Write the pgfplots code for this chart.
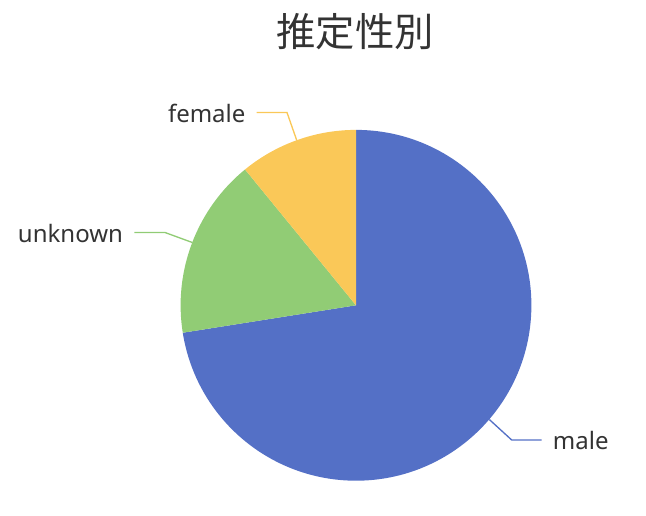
\documentclass[border=0pt]{standalone}
\usepackage{pgfplots}
\pgfplotsset{compat=1.18}
\usepackage{pgfplotstable}
\usepackage{fontspec}
\setmainfont{Noto Sans}
\newfontfamily\cjk{Noto Sans CJK JP}
\definecolor{cmale}{HTML}{5470C6}
\definecolor{cunknown}{HTML}{91CC75}
\definecolor{cfemale}{HTML}{FAC858}
\definecolor{txt}{HTML}{333333}

% share of each slice
\pgfplotstableread{
label value
male 72.5
unknown 16.6
female 10.9
}\piedata

\begin{document}
\begin{tikzpicture}
\pgfplotstablegetelem{0}{value}\of\piedata \let\vmale\pgfplotsretval
\pgfplotstablegetelem{1}{value}\of\piedata \let\vunknown\pgfplotsretval
\pgfplotstablegetelem{2}{value}\of\piedata \let\vfemale\pgfplotsretval
\pgfmathsetmacro\total{\vmale+\vunknown+\vfemale}
\pgfmathsetmacro\aA{90-360*(\vmale/\total)}
\pgfmathsetmacro\aB{\aA-360*(\vunknown/\total)}
\def\R{131.55pt}
\begin{axis}[
    hide axis, scale only axis,
    x=0.75pt, y=0.75pt,
    xmin=0, xmax=646, ymin=0, ymax=516,
    y dir=reverse, clip=false,
  ]
  \path (axis cs:0,0) rectangle (axis cs:646,516);
  % slices, clockwise from 12 o'clock
  \fill[cmale] (axis cs:356,305.3) -- ++(90:\R)
    arc[start angle=90, end angle=\aA, radius=\R] -- cycle;
  \fill[cunknown] (axis cs:356,305.3) -- ++(\aA:\R)
    arc[start angle=\aA, end angle=\aB, radius=\R] -- cycle;
  \fill[cfemale] (axis cs:356,305.3) -- ++(\aB:\R)
    arc[start angle=\aB, end angle=-270, radius=\R] -- cycle;

  % leader lines and labels
  \draw[cfemale, line width=1pt] (axis cs:296.8,140.5) -- (axis cs:287,112.5) -- (axis cs:256.7,112.5);
  \node[anchor=east, inner sep=0, text=txt, font=\fontsize{18}{18}\selectfont] at (axis cs:245.7,113) {female};
  \draw[cunknown, line width=1pt] (axis cs:192.3,242.5) -- (axis cs:165,232.5) -- (axis cs:134.3,232.5);
  \node[anchor=east, inner sep=0, text=txt, font=\fontsize{18}{18}\selectfont] at (axis cs:123.3,234) {unknown};
  \draw[cmale, line width=1pt] (axis cs:489.3,419.5) -- (axis cs:511.7,440) -- (axis cs:541.7,440);
  \node[anchor=west, inner sep=0, text=txt, font=\fontsize{18}{18}\selectfont] at (axis cs:552.7,440.5) {male};

  \node[text=txt, inner sep=0, font=\fontsize{29.5}{29.5}\selectfont\cjk] at (axis cs:355,32) {推定性別};
\end{axis}
\end{tikzpicture}
\end{document}
